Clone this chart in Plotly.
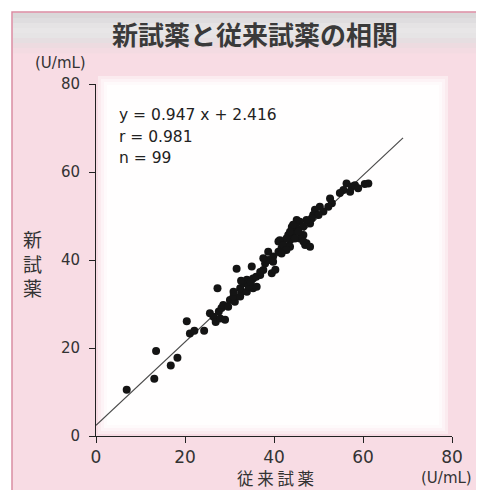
import plotly.graph_objects as go

# ---- data ----
conv_x = [6.9, 13.1, 13.5, 16.8, 18.3, 20.4, 21.1, 22.1, 24.3, 25.6,
          26.4, 26.9, 27.3, 27.9, 27.6, 29.0, 28.2, 28.6, 29.7, 30.1,
          31.2, 30.9, 32.4, 32.7, 30.9, 32.4, 33.9, 35.3, 33.1, 33.9,
          35.3, 34.3, 36.1, 36.9, 37.6, 38.0, 39.5, 38.7, 39.8, 41.0,
          41.7, 41.7, 42.8, 43.6, 44.3, 45.1, 46.6, 47.3, 48.1, 31.6,
          35.0, 32.6, 34.8, 36.0, 36.9, 37.6, 38.7, 39.8, 40.3, 41.0,
          42.1, 43.2, 44.0, 45.8, 47.0, 56.3, 57.5, 58.2, 58.9, 55.6,
          54.8, 57.1, 61.2, 60.4, 52.6, 53.0, 52.2, 50.3, 49.2, 51.1,
          48.8, 50.0, 48.5, 47.3, 45.8, 45.1, 46.6, 44.3, 43.6, 45.5,
          44.7, 42.8, 41.3, 42.1, 46.6, 48.1, 43.6, 42.8, 41.7]
new_y = [10.5, 13.0, 19.3, 16.0, 17.8, 26.1, 23.3, 23.9, 23.9, 27.9,
         27.1, 25.9, 33.6, 26.7, 28.3, 26.4, 29.1, 29.8, 29.4, 30.9,
         30.5, 31.7, 31.7, 32.8, 32.8, 33.6, 32.8, 33.6, 34.7, 35.5,
         35.8, 34.0, 33.9, 36.6, 37.7, 39.2, 37.0, 40.0, 40.8, 41.9,
         42.7, 44.2, 43.0, 44.5, 46.1, 47.2, 45.7, 43.8, 48.3, 38.0,
         38.5, 35.3, 35.0, 36.2, 37.3, 40.4, 41.9, 39.6, 37.8, 44.2,
         42.3, 45.7, 47.5, 44.9, 43.4, 57.4, 56.7, 57.0, 56.3, 55.9,
         55.2, 55.5, 57.4, 57.3, 54.0, 52.9, 52.1, 52.1, 51.4, 51.0,
         50.2, 50.2, 49.5, 49.1, 48.7, 49.1, 47.6, 48.0, 46.4, 46.4,
         44.9, 44.9, 44.5, 43.4, 44.2, 43.0, 43.0, 42.3, 41.5]

slope = 0.947
intercept = 2.416
r_value = 0.981
n_value = 99
line_x = [0, 69]
line_y = [intercept + slope * v for v in line_x]

x_ticks = [0, 20, 40, 60, 80]
y_ticks = [0, 20, 40, 60, 80]
title_text = "新試薬と従来試薬の相関"
x_title = "従来試薬"
y_title = "新試薬"
unit = "(U/mL)"

# ---- geometry (page pixels; the page body adds an 8px offset) ----
OFF = 8
W, H = 484 - OFF, 490 - OFF
L, R, T, B = 96, 452, 84, 436          # plot area in page pixels
def px(x):
    return (x - L) / (R - L)
def py(y):
    return (B - y) / (B - T)

fig = go.Figure()
fig.add_trace(go.Scatter(x=line_x, y=line_y, mode="lines",
                         line=dict(color="#4a4a4a", width=1.2),
                         hoverinfo="skip", showlegend=False))
fig.add_trace(go.Scatter(x=conv_x, y=new_y, mode="markers",
                         marker=dict(color="#141414", size=8),
                         showlegend=False))

shapes = []
shapes.append(dict(type="rect", xref="paper", yref="paper", layer="below",
                   x0=px(12), x1=px(490), y0=py(12), y1=py(500),
                   fillcolor="#f8dce4", line=dict(color="#d98da2", width=1.5)))
bar_cols = ["#dad8d9", "#dfdddf", "#e5e3e4", "#e8e6e7", "#e6e4e5",
            "#e6dee1", "#eddbe0", "#f3dbe2"]
top = 13
for i, c in enumerate(bar_cols):
    y0 = top + i * 5
    shapes.append(dict(type="rect", xref="paper", yref="paper", layer="below",
                       x0=px(13), x1=px(490), y0=py(y0), y1=py(y0 + 5.5),
                       fillcolor=c, line=dict(width=0)))
for inset, c in [(0, "#fbebef"), (3, "#fdf3f6"), (6, "#fefafb"), (9, "#fffefe")]:
    shapes.append(dict(type="rect", xref="paper", yref="paper", layer="below",
                       x0=px(98 + inset), x1=px(448 - inset),
                       y0=py(76 + inset), y1=py(434 - inset),
                       fillcolor=c, line=dict(width=0)))

txt = "#333333"
sans = "DejaVu Sans, sans-serif"
cjk = "Noto Sans CJK JP, sans-serif"

def note(text, x, y, size, family, color=txt, xanchor="center"):
    return dict(text=text, x=px(x), y=py(y), xref="paper", yref="paper",
                xanchor=xanchor, yanchor="middle", showarrow=False,
                font=dict(family=family, size=size, color=color))

ann = [
    note("<b>" + title_text + "</b>", 255, 33, 26, cjk, "#3a3a3a"),
    note(unit, 60, 63, 15, sans),
    note(unit, 446, 478, 15, sans),
    note(" ".join(x_title), 275, 478, 16.5, cjk),
    note("<br>".join(y_title), 32, 263, 19, cjk),
]
stats = [f"y = {slope} x + {intercept}", f"r = {r_value}", f"n = {n_value}"]
for i, s in enumerate(stats):
    ann.append(note(s, 117, 115 + i * 21.5, 15.5, sans, "#222222", "left"))

fig.update_layout(
    width=W, height=H,
    margin=dict(l=L - OFF, r=W - (R - OFF), t=T - OFF, b=H - (B - OFF), pad=0),
    paper_bgcolor="white", plot_bgcolor="rgba(0,0,0,0)",
    shapes=shapes, annotations=ann,
    xaxis=dict(range=[0, 80], tickvals=x_ticks, showgrid=False, zeroline=False,
               showline=True, linecolor="#222222", linewidth=1,
               ticks="outside", ticklen=6, tickcolor="#222222",
               ticklabelstandoff=0,
               tickfont=dict(family=sans, size=17, color=txt)),
    yaxis=dict(range=[0, 80], tickvals=y_ticks, showgrid=False, zeroline=False,
               showline=True, linecolor="#222222", linewidth=1,
               ticks="outside", ticklen=6, tickcolor="#222222",
               ticklabelstandoff=6,
               tickfont=dict(family=sans, size=15, color=txt)),
)

fig.write_html("out.html")
